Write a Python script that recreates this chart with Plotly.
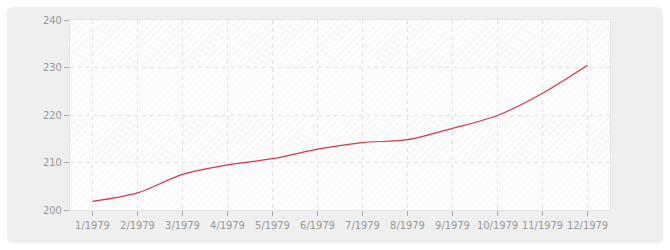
import plotly.graph_objects as go

months = ["1/1979", "2/1979", "3/1979", "4/1979", "5/1979", "6/1979",
          "7/1979", "8/1979", "9/1979", "10/1979", "11/1979", "12/1979"]
values = [201.8, 203.6, 207.5, 209.5, 210.8, 212.8,
          214.2, 214.8, 217.2, 219.9, 224.6, 230.5]
y_ticks = [200, 210, 220, 230, 240]

W, H = 670, 250
ML, MR, MT, MB = 70, 60, 20, 40
PW, PH = W - ML - MR, H - MT - MB

fig = go.Figure()

# hatched alternating background bands (on hidden numeric x axis)
band_base = [y_ticks[i] for i in range(len(y_ticks) - 1)]
band_h = [y_ticks[i + 1] - y_ticks[i] for i in range(len(y_ticks) - 1)]
fg = ["rgba(0,0,0,0.025)" if i % 2 == 0 else "rgba(0,0,0,0.055)"
      for i in range(len(band_base))]
fig.add_trace(go.Bar(
    x=[0.5] * len(band_base), y=band_h, base=band_base, width=1,
    xaxis="x", yaxis="y",
    marker=dict(color="rgba(0,0,0,0)", line=dict(width=0),
                pattern=dict(shape="/", fgcolor=fg, bgcolor="rgba(0,0,0,0)",
                             size=5, solidity=0.25)),
    hoverinfo="skip", showlegend=False,
))

fig.add_trace(go.Scatter(
    x=months, y=values, mode="lines", xaxis="x2", yaxis="y",
    line=dict(color="#dc3545", width=1.2, shape="spline", smoothing=0.8),
    showlegend=False,
))

# rounded outer grey box with a hole for the plot area
x0 = (7 - ML) / PW
x1 = (663 - ML) / PW
y0 = -(243 - (MT + PH)) / PH
y1 = (MT + PH - 7) / PH
rx, ry = 6 / PW, 6 / PH
outer = (f"M {x0+rx},{y0} L {x1-rx},{y0} Q {x1},{y0} {x1},{y0+ry} "
         f"L {x1},{y1-ry} Q {x1},{y1} {x1-rx},{y1} L {x0+rx},{y1} "
         f"Q {x0},{y1} {x0},{y1-ry} L {x0},{y0+ry} Q {x0},{y0} {x0+rx},{y0} Z")
inner = "M 0,0 L 0,1 L 1,1 L 1,0 Z"
fig.add_shape(type="path", path=outer + " " + inner, xref="paper", yref="paper",
              fillcolor="#efefef", line=dict(width=0), layer="below")

FONT = "DejaVu Sans Condensed, Liberation Sans, sans-serif"
GRID = "#e4e4e4"

fig.update_layout(
    width=W, height=H,
    margin=dict(l=ML, r=MR, t=MT, b=MB),
    paper_bgcolor="white",
    plot_bgcolor="#fdfdfd",
    font=dict(family=FONT, size=11, color="#999999"),
    bargap=0,
    xaxis=dict(range=[0, 1], visible=False, fixedrange=True),
    xaxis2=dict(
        overlaying="x", side="bottom",
        type="category", range=[-0.5, len(months) - 0.5],
        showgrid=True, gridcolor=GRID, griddash="4px,4px", gridwidth=1,
        ticks="outside", ticklen=5, tickcolor="#aaaaaa",
        showline=True, linecolor=GRID, mirror=True,
        zeroline=False, fixedrange=True,
    ),
    yaxis=dict(
        range=[y_ticks[0], y_ticks[-1]], tickvals=y_ticks,
        showgrid=True, gridcolor=GRID, griddash="4px,4px", gridwidth=1,
        ticks="outside", ticklen=5, tickcolor="#aaaaaa",
        showline=True, linecolor=GRID, mirror=True,
        zeroline=False, fixedrange=True,
    ),
)

fig.write_html("out.html")
